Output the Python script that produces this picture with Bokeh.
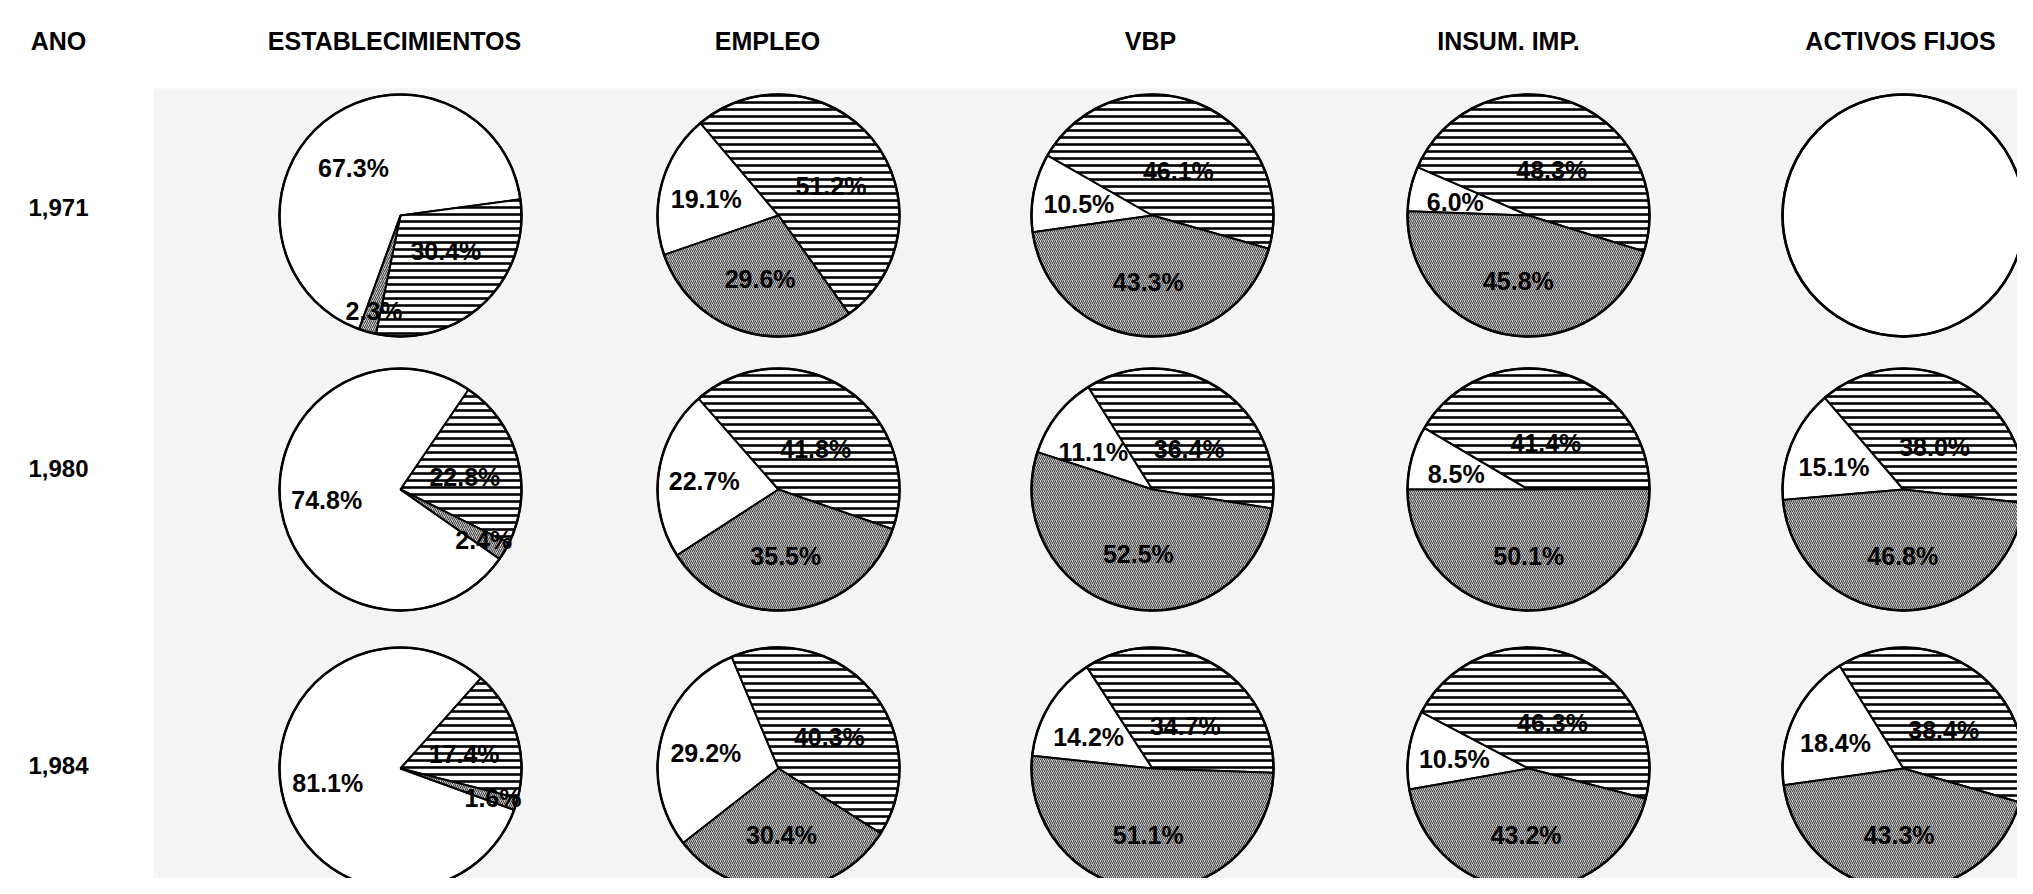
import math
from bokeh.plotting import figure
from bokeh.models import Range1d, ColumnDataSource
from bokeh.core.properties import value
from bokeh.embed import file_html
from bokeh.resources import INLINE

# ---------------- data ----------------
YEARS = ["1,971", "1,980", "1,984"]
HEADERS = ["ESTABLECIMIENTOS", "EMPLEO", "VBP", "INSUM. IMP.", "ACTIVOS FIJOS"]
# shares (%) per column, per year  (None = no data)
WHITE_SHARE = [[67.3, 74.8, 81.1], [19.1, 22.7, 29.2], [10.5, 11.1, 14.2], [6.0, 8.5, 10.5], [None, 15.1, 18.4]]
STIPPLE_SHARE = [[2.3, 2.4, 1.6], [29.6, 35.5, 30.4], [43.3, 52.5, 51.1], [45.8, 50.1, 43.2], [None, 46.8, 43.3]]
STRIPE_SHARE = [[30.4, 22.8, 17.4], [51.2, 41.8, 40.3], [46.1, 36.4, 34.7], [48.3, 41.4, 46.3], [None, 38.0, 38.4]]

# ---------------- layout ----------------
PAGE_H = 894
def Y(py):
    return PAGE_H - py

COL_X = [400, 778, 1152, 1528, 1903]
ROW_Y = [215, 489, 768]
HEAD_X = [394, 767, 1150, 1508, 1900]
HEAD_Y = 40
ROWLAB_X = 58
ROWLAB_Y = [207, 468, 765]
R = 121
# angle (deg, counter-clockwise from east) where the white slice ends and the stippled one begins
ROT = [[250, 325, 340], [199, 213, 218], [188, 162, 174], [178, 180, 190], [None, 185, 188]]
# label placement (fraction of radius in x, y) per slice kind
LFRAC = {"white": (0.62, 0.5), "stripe": (0.55, 0.4), "stipple": (0.5, 0.55)}

p = figure(width=2017, height=878, x_range=Range1d(0, 2017), y_range=Range1d(16, 894),
           output_backend="svg", toolbar_location=None, min_border=0)
p.axis.visible = False
p.grid.visible = False
p.outline_line_color = None
p.background_fill_color = "white"
p.border_fill_color = "white"

# scanned page grey area
p.quad(left=[153], right=[2040], top=[Y(88)], bottom=[Y(900)], fill_color="#f4f4f4", line_color=None)

FONT = value("Liberation Sans")

wx, wy, ws, we, wkind = [], [], [], [], []
lx, ly, lt = [], [], []
cx_list, cy_list = [], []

for ci in range(5):
    for ri in range(3):
        cx, cy = COL_X[ci], Y(ROW_Y[ri])
        cx_list.append(cx); cy_list.append(cy)
        w, s, t = WHITE_SHARE[ci][ri], STIPPLE_SHARE[ci][ri], STRIPE_SHARE[ci][ri]
        if w is None:
            continue
        tot = w + s + t
        b = ROT[ci][ri]
        a0 = b
        a1 = a0 + s / tot * 360.0
        a2 = a1 + t / tot * 360.0
        a3 = b + 360.0
        for (sa, ea, kind, val) in [(a0, a1, "stipple", s), (a1, a2, "stripe", t), (a2, a3, "white", w)]:
            wx.append(cx); wy.append(cy)
            ws.append(math.radians(sa)); we.append(math.radians(ea)); wkind.append(kind)
            mid = math.radians((sa + ea) / 2.0)
            fx, fy = LFRAC[kind] if val >= 5 else (0.8, 0.82)
            lx.append(cx + fx * R * math.cos(mid))
            ly.append(cy + fy * R * math.sin(mid))
            lt.append(f"{val:.1f}%")

def sub(kind):
    idx = [i for i, k in enumerate(wkind) if k == kind]
    return ColumnDataSource(dict(x=[wx[i] for i in idx], y=[wy[i] for i in idx],
                                 s=[ws[i] for i in idx], e=[we[i] for i in idx]))

p.wedge(x="x", y="y", radius=R, start_angle="s", end_angle="e", source=sub("white"),
        fill_color="white", line_color="black", line_width=2)
p.wedge(x="x", y="y", radius=R, start_angle="s", end_angle="e", source=sub("stripe"),
        fill_color="white", hatch_pattern="horizontal_line", hatch_color="black",
        hatch_scale=7, hatch_weight=2.6, line_color="black", line_width=2)
p.wedge(x="x", y="y", radius=R, start_angle="s", end_angle="e", source=sub("stipple"),
        fill_color="#c2c2c2", hatch_pattern="right_diagonal_line", hatch_color="#333333",
        hatch_scale=4, hatch_weight=0.9, line_color="black", line_width=2)

# outlines (also draws the empty 1971 ACTIVOS FIJOS circle)
empty_x = [COL_X[ci] for ci in range(5) for ri in range(3) if WHITE_SHARE[ci][ri] is None]
empty_y = [Y(ROW_Y[ri]) for ci in range(5) for ri in range(3) if WHITE_SHARE[ci][ri] is None]
p.circle(x=empty_x, y=empty_y, radius=R, fill_color="white", line_color="black", line_width=2.5)
p.circle(x=cx_list, y=cy_list, radius=R, fill_color=None, line_color="black", line_width=2.5)

p.text(x=lx, y=ly, text=lt, text_font=FONT, text_font_style="bold", text_font_size="25px",
       text_align="center", text_baseline="middle", text_color="black")

p.text(x=HEAD_X, y=[Y(HEAD_Y)] * 5, text=HEADERS, text_font=FONT, text_font_style="bold",
       text_font_size="25px", text_align="center", text_baseline="middle", text_color="black")
p.text(x=[ROWLAB_X], y=[Y(HEAD_Y)], text=["ANO"], text_font=FONT, text_font_style="bold",
       text_font_size="25px", text_align="center", text_baseline="middle", text_color="black")
p.text(x=[ROWLAB_X] * 3, y=[Y(v) for v in ROWLAB_Y], text=YEARS, text_font=FONT, text_font_style="bold",
       text_font_size="24px", text_align="center", text_baseline="middle", text_color="black")

open("out.html", "w").write(file_html(p, INLINE))
